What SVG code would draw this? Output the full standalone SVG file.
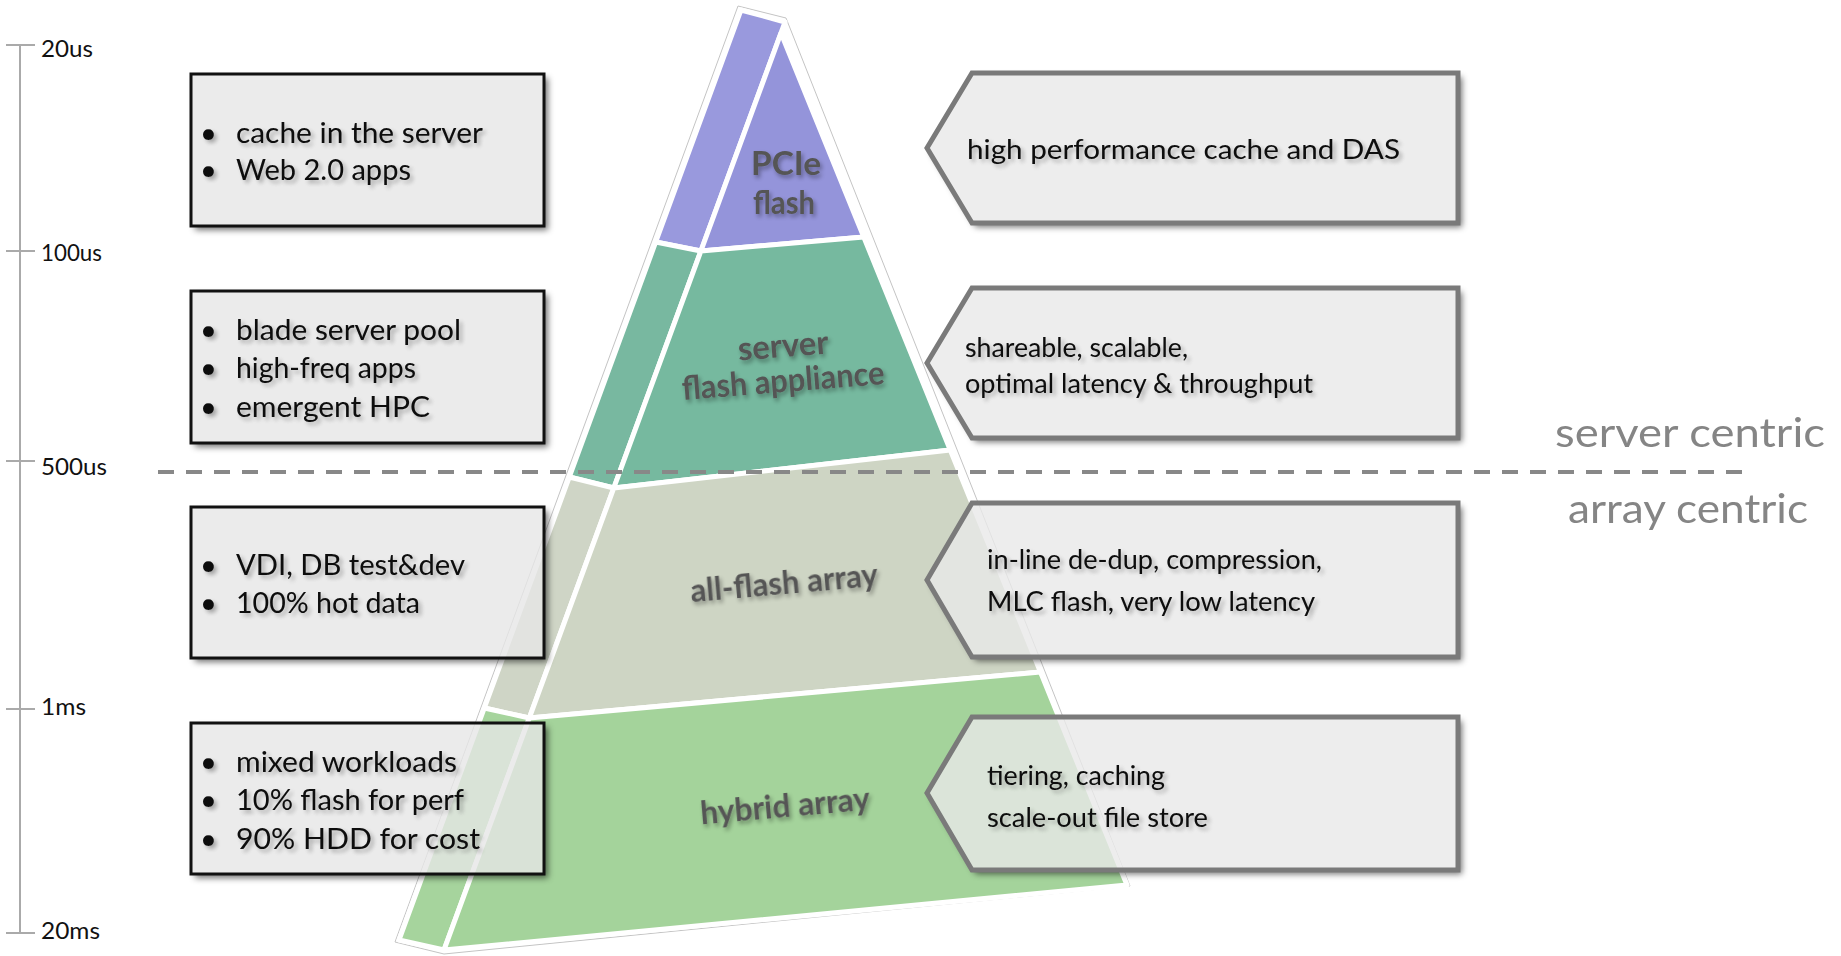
<svg xmlns="http://www.w3.org/2000/svg" width="1841" height="956" viewBox="0 0 1841 956">
<defs>
<style>
.t{font-family:'Gill Sans','Lato',sans-serif;fill:#0a0a0a}
.ax{font-family:'Gill Sans','Lato',sans-serif;fill:#111;font-size:24px}
.lb{font-size:29px}
.rb{font-size:27px}
.cen{font-family:'Gill Sans','Lato',sans-serif;fill:#858585;font-size:40px}
.tier{font-family:'Gill Sans','Lato',sans-serif;fill:#555;font-size:33px;font-weight:bold;text-anchor:middle}
.face{stroke:#fff;stroke-width:5;stroke-linejoin:round}
.lbox{fill:#e6e6e6;fill-opacity:0.8;stroke:#111;stroke-width:3}
.rbox{fill:#e8e8e8;fill-opacity:0.8;stroke:#7a7a7a;stroke-width:5;stroke-linejoin:miter}
.tick{stroke:#aaa;stroke-width:2}
</style>
<filter id="ts" x="-5%" y="-30%" width="115%" height="180%">
<feGaussianBlur in="SourceAlpha" stdDeviation="2"/>
<feOffset dx="3" dy="3" result="b"/>
<feComponentTransfer><feFuncA type="linear" slope="0.3"/></feComponentTransfer>
<feMerge><feMergeNode/><feMergeNode in="SourceGraphic"/></feMerge>
</filter>
<filter id="tl" x="-10%" y="-30%" width="125%" height="180%">
<feGaussianBlur in="SourceGraphic" stdDeviation="0.7" result="s"/>
<feGaussianBlur in="SourceAlpha" stdDeviation="2"/>
<feOffset dx="2" dy="3"/>
<feComponentTransfer><feFuncA type="linear" slope="0.35"/></feComponentTransfer>
<feMerge><feMergeNode/><feMergeNode in="s"/></feMerge>
</filter>
<filter id="sh" x="-10%" y="-10%" width="130%" height="140%">
<feGaussianBlur stdDeviation="3"/>
</filter>
<mask id="boxmask" maskUnits="userSpaceOnUse" x="0" y="0" width="1841" height="956">
<rect x="0" y="0" width="1841" height="956" fill="#fff"/>
<rect x="191" y="74" width="353" height="152" fill="#000"/>
<rect x="191" y="291" width="353" height="152" fill="#000"/>
<rect x="191" y="507" width="353" height="151" fill="#000"/>
<rect x="191" y="723" width="353" height="151" fill="#000"/>
<polygon points="927,148 972,73 1458,73 1458,223 972,223" fill="#000"/>
<polygon points="927,363 972,288 1458,288 1458,438 972,438" fill="#000"/>
<polygon points="927,580 972,503 1458,503 1458,657 972,657" fill="#000"/>
<polygon points="927,793 972,717 1458,717 1458,870 972,870" fill="#000"/>
</mask>
</defs>
<rect width="1841" height="956" fill="#fff"/>

<g id="axis">
<line class="tick" x1="20" y1="45" x2="20" y2="934"/>
<line class="tick" x1="6" y1="45" x2="35" y2="45"/>
<line class="tick" x1="6" y1="251" x2="35" y2="251"/>
<line class="tick" x1="6" y1="461" x2="35" y2="461"/>
<line class="tick" x1="6" y1="709" x2="35" y2="709"/>
<line class="tick" x1="6" y1="933" x2="35" y2="933"/>
<text class="ax" x="41" y="57" textLength="52" lengthAdjust="spacingAndGlyphs">20us</text>
<text class="ax" x="41" y="261" textLength="61" lengthAdjust="spacingAndGlyphs">100us</text>
<text class="ax" x="41" y="475" textLength="66" lengthAdjust="spacingAndGlyphs">500us</text>
<text class="ax" x="41" y="715" textLength="45" lengthAdjust="spacingAndGlyphs">1ms</text>
<text class="ax" x="41" y="939" textLength="59" lengthAdjust="spacingAndGlyphs">20ms</text>
</g>

<g id="pyramid">
<polygon points="738,6 786,18 1130,886 444,954 395,942" fill="#fff" stroke="#c4c4c4" stroke-width="1"/>
<g id="tier-pcie">
<polygon class="face" fill="#9999dd" points="741,10 785,22 700.9,251 655.7,242"/>
<polygon class="face" fill="#9494da" points="781,33 863.8,237 700.9,251"/>
</g>
<g id="tier-server">
<polygon class="face" fill="#78b8a0" points="655.7,242 700.9,251 613.8,488 569.3,477"/>
<polygon class="face" fill="#76b99f" points="700.9,251 863.8,237 950.3,450 613.8,488"/>
</g>
<g id="tier-allflash">
<polygon class="face" fill="#cfd5c6" points="569.3,477 613.8,488 529.3,718 484.3,708"/>
<polygon class="face" fill="#ced5c4" points="613.8,488 950.3,450 1040.5,672 529.3,718"/>
</g>
<g id="tier-hybrid">
<polygon class="face" fill="#a6d49d" points="484.3,708 529.3,718 444,950 399,940"/>
<polygon class="face" fill="#a4d39b" points="529.3,718 1040.5,672 1127,885 444,950"/>
</g>
<g filter="url(#tl)">
<text class="tier" x="786" y="175" textLength="70" lengthAdjust="spacingAndGlyphs">PCIe</text>
<text class="tier" x="784" y="214" textLength="62" lengthAdjust="spacingAndGlyphs">flash</text>
<text class="tier" x="784" y="357" transform="rotate(-4.5 784 357)" textLength="91" lengthAdjust="spacingAndGlyphs">server</text>
<text class="tier" x="784" y="392" transform="rotate(-4.5 784 392)" textLength="203" lengthAdjust="spacingAndGlyphs">flash appliance</text>
<text class="tier" x="785" y="594" transform="rotate(-5 785 594)" textLength="188" lengthAdjust="spacingAndGlyphs">all-flash array</text>
<text class="tier" x="786" y="817" transform="rotate(-5 786 817)" textLength="170" lengthAdjust="spacingAndGlyphs">hybrid array</text>
</g>
</g>

<g id="connectors">
<line x1="158" y1="472" x2="1745" y2="472" stroke="#888" stroke-width="4" stroke-dasharray="16 12"/>
</g>

<g id="shadows" mask="url(#boxmask)" filter="url(#sh)" fill="#000" fill-opacity="0.55">
<rect x="195" y="78" width="353" height="152"/>
<rect x="195" y="295" width="353" height="152"/>
<rect x="195" y="511" width="353" height="151"/>
<rect x="195" y="727" width="353" height="151"/>
<polygon points="931,152 976,77 1462,77 1462,227 976,227"/>
<polygon points="931,367 976,292 1462,292 1462,442 976,442"/>
<polygon points="931,584 976,507 1462,507 1462,661 976,661"/>
<polygon points="931,797 976,721 1462,721 1462,874 976,874"/>
</g>

<g id="left-box-1">
<rect class="lbox" x="191" y="74" width="353" height="152"/>
<g class="t lb" filter="url(#ts)">
<text x="200" y="143">•</text><text x="236" y="143" textLength="247" lengthAdjust="spacingAndGlyphs">cache in the server</text>
<text x="200" y="180">•</text><text x="236" y="180" textLength="175" lengthAdjust="spacingAndGlyphs">Web 2.0 apps</text>
</g>
</g>
<g id="left-box-2">
<rect class="lbox" x="191" y="291" width="353" height="152"/>
<g class="t lb" filter="url(#ts)">
<text x="200" y="340">•</text><text x="236" y="340" textLength="225" lengthAdjust="spacingAndGlyphs">blade server pool</text>
<text x="200" y="378">•</text><text x="236" y="378" textLength="180" lengthAdjust="spacingAndGlyphs">high-freq apps</text>
<text x="200" y="417">•</text><text x="236" y="417" textLength="194" lengthAdjust="spacingAndGlyphs">emergent HPC</text>
</g>
</g>
<g id="left-box-3">
<rect class="lbox" x="191" y="507" width="353" height="151"/>
<g class="t lb" filter="url(#ts)">
<text x="200" y="575">•</text><text x="236" y="575" textLength="229" lengthAdjust="spacingAndGlyphs">VDI, DB test&amp;dev</text>
<text x="200" y="613">•</text><text x="236" y="613" textLength="184" lengthAdjust="spacingAndGlyphs">100% hot data</text>
</g>
</g>
<g id="left-box-4">
<rect class="lbox" x="191" y="723" width="353" height="151"/>
<g class="t lb" filter="url(#ts)">
<text x="200" y="772">•</text><text x="236" y="772" textLength="221" lengthAdjust="spacingAndGlyphs">mixed workloads</text>
<text x="200" y="810">•</text><text x="236" y="810" textLength="228" lengthAdjust="spacingAndGlyphs">10% flash for perf</text>
<text x="200" y="849">•</text><text x="236" y="849" textLength="244" lengthAdjust="spacingAndGlyphs">90% HDD for cost</text>
</g>
</g>

<g id="right-box-1">
<polygon class="rbox" points="927,148 972,73 1458,73 1458,223 972,223"/>
<text class="t rb" filter="url(#ts)" x="967" y="159" textLength="433" lengthAdjust="spacingAndGlyphs">high performance cache and DAS</text>
</g>
<g id="right-box-2">
<polygon class="rbox" points="927,363 972,288 1458,288 1458,438 972,438"/>
<g class="t rb" filter="url(#ts)" style="font-size:26px">
<text x="965" y="357" textLength="223" lengthAdjust="spacingAndGlyphs">shareable, scalable,</text>
<text x="965" y="393" textLength="348" lengthAdjust="spacingAndGlyphs">optimal latency &amp; throughput</text>
</g>
</g>
<g id="right-box-3">
<polygon class="rbox" points="927,580 972,503 1458,503 1458,657 972,657"/>
<g class="t rb" filter="url(#ts)" style="font-size:26px">
<text x="987" y="569" textLength="335" lengthAdjust="spacingAndGlyphs">in-line de-dup, compression,</text>
<text x="987" y="611" textLength="328" lengthAdjust="spacingAndGlyphs">MLC flash, very low latency</text>
</g>
</g>
<g id="right-box-4">
<polygon class="rbox" points="927,793 972,717 1458,717 1458,870 972,870"/>
<g class="t rb" filter="url(#ts)" style="font-size:26px">
<text x="987" y="785" textLength="178" lengthAdjust="spacingAndGlyphs">tiering, caching</text>
<text x="987" y="827" textLength="221" lengthAdjust="spacingAndGlyphs">scale-out file store</text>
</g>
</g>

<g id="region-labels">
<text class="cen" x="1555" y="447" textLength="270" lengthAdjust="spacingAndGlyphs">server centric</text>
<text class="cen" x="1568" y="523" textLength="240" lengthAdjust="spacingAndGlyphs">array centric</text>
</g>
</svg>
